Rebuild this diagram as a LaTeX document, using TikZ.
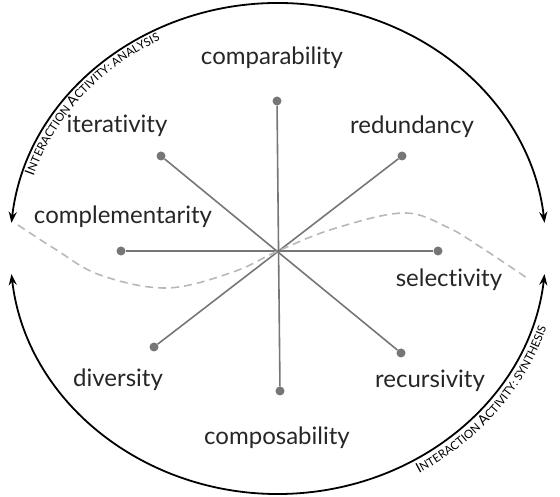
\documentclass[tikz,border=0pt]{standalone}
\usepackage{fontspec}
\setmainfont{Lato}[Ligatures=NoCommon]
\usetikzlibrary{arrows.meta,decorations.text}
\definecolor{spokegray}{HTML}{767676}
\definecolor{curvegray}{HTML}{B8B8B8}
\definecolor{labelgray}{HTML}{262626}
\newcommand{\capbig}{\fontsize{14}{14}\selectfont}
\newcommand{\capsmall}{\fontsize{11.5}{11.5}\selectfont}

\begin{document}
\begin{tikzpicture}[x=1pt,y=1pt]
\tikzset{SPOKE/.style={draw=spokegray,line width=1.6pt}}
\tikzset{DOT/.style={circle,fill=spokegray,inner sep=0pt,minimum size=9pt}}
\tikzset{LABEL/.style={anchor=base,text=labelgray,font=\fontsize{24}{24}\selectfont}}
\tikzset{BALANCE/.style={draw=curvegray,line width=1.6pt,dash pattern=on 8pt off 5pt}}
\tikzset{ACTIVITY/.style={draw=black,line width=1.8pt,{Stealth[length=11pt,width=8pt]}-{Stealth[length=11pt,width=8pt]}}}
\tikzset{PHASE/.style={decorate,decoration={text along path,text align=left,text color=black}}}

\useasboundingbox (0,0) rectangle (560,497);

\coordinate (hub) at (278,246);
\coordinate (rim) at (278,248.5);

% spokes
\node[DOT] (comparability dot) at (277,396) {};
\node[DOT] (composability dot) at (280,106) {};
\node[DOT] (complementarity dot) at (121,246) {};
\node[DOT] (selectivity dot) at (438,246) {};
\node[DOT] (iterativity dot) at (161,341) {};
\node[DOT] (recursivity dot) at (401,144) {};
\node[DOT] (redundancy dot) at (402,341) {};
\node[DOT] (diversity dot) at (154,150) {};

\path [SPOKE] (comparability dot) -- (composability dot);
\path [SPOKE] (complementarity dot) -- (selectivity dot);
\path [SPOKE] (iterativity dot) -- (recursivity dot);
\path [SPOKE] (redundancy dot) -- (diversity dot);

\node[LABEL] (comparability) at (272,432) {comparability};
\node[LABEL] (iterativity) at (117,364) {iterativity};
\node[LABEL] (redundancy) at (412,363) {redundancy};
\node[LABEL] (complementarity) at (123,273) {complementarity};
\node[LABEL] (selectivity) at (449,210) {selectivity};
\node[LABEL] (diversity) at (118,110) {diversity};
\node[LABEL] (recursivity) at (430,109) {recursivity};
\node[LABEL] (composability) at (277,52) {composability};

% dashed wave
\path [BALANCE] plot[smooth,tension=0.6] coordinates {(18,272) (55,248) (100,222) (167,209) (233,225) (hub) (333,268) (403,284) (447,270) (482,249) (527,219)};

% activity arcs
\path [ACTIVITY] ([shift={(174:268 and 245.5)}]rim) arc[start angle=174,end angle=6,x radius=268,y radius=245.5];
\path [ACTIVITY] ([shift={(186:268 and 245.5)}]rim) arc[start angle=186,end angle=354,x radius=268,y radius=245.5];

\path [PHASE,decoration={text={|\capbig|I|\capsmall|NTERACTION |\capbig|A|\capsmall|CTIVITY: ANALYSIS}}]
  ([shift={(162:257 and 234.5)}]rim) arc[start angle=162,end angle=90,x radius=257,y radius=234.5];
\path [PHASE,decoration={text={|\capbig|I|\capsmall|NTERACTION |\capbig|A|\capsmall|CTIVITY: SYNTHESIS}}]
  ([shift={(-60:282 and 259.5)}]rim) arc[start angle=-60,end angle=0,x radius=282,y radius=259.5];

\end{tikzpicture}
\end{document}
